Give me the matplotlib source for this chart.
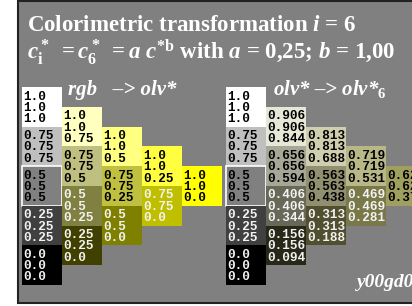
import matplotlib.pyplot as plt
from matplotlib.patches import Rectangle

plt.rcParams['mathtext.fontset'] = 'custom'
plt.rcParams['mathtext.rm'] = 'Liberation Serif:bold'
plt.rcParams['mathtext.it'] = 'Liberation Serif:bold:italic'
plt.rcParams['mathtext.bf'] = 'Liberation Serif:bold'

# rgb input colours, one list per column (top to bottom)
rgb_cols = [
    [(1.0, 1.0, 1.0), (0.75, 0.75, 0.75), (0.5, 0.5, 0.5), (0.25, 0.25, 0.25), (0.0, 0.0, 0.0)],
    [(1.0, 1.0, 0.75), (0.75, 0.75, 0.5), (0.5, 0.5, 0.25), (0.25, 0.25, 0.0)],
    [(1.0, 1.0, 0.5), (0.75, 0.75, 0.25), (0.5, 0.5, 0.0)],
    [(1.0, 1.0, 0.25), (0.75, 0.75, 0.0)],
    [(1.0, 1.0, 0.0)],
]
# transformed olv*6 colours
olv_cols = [
    [(1.0, 1.0, 1.0), (0.75, 0.75, 0.75), (0.5, 0.5, 0.5), (0.25, 0.25, 0.25), (0.0, 0.0, 0.0)],
    [(0.906, 0.906, 0.844), (0.656, 0.656, 0.594), (0.406, 0.406, 0.344), (0.156, 0.156, 0.094)],
    [(0.813, 0.813, 0.688), (0.563, 0.563, 0.438), (0.313, 0.313, 0.188)],
    [(0.719, 0.719, 0.531), (0.469, 0.469, 0.281)],
    [(0.625, 0.625, 0.375)],
]
# number of cells (from the top) in each column that use black text
n_black = [3, 2, 2, 1, 1]

W, H = 412, 306
fig = plt.figure(figsize=(W / 100, H / 100), dpi=100, facecolor='white')
ax = fig.add_axes([0, 0, 1, 1])
ax.set_xlim(0, W)
ax.set_ylim(H, 0)
ax.axis('off')

ax.add_patch(Rectangle((18.5, 1), 420, 301.5, facecolor='#808080',
                       edgecolor='#222222', lw=1.5))

cw, ch = 40, 39.6


def fmt(v):
    s = f"{v:.3f}".rstrip('0')
    if s.endswith('.'):
        s += '0'
    return s


def draw_block(x0, y0, cols):
    for c, col in enumerate(cols):
        for r, rgb in enumerate(col):
            x = x0 + c * cw
            y = y0 + c * ch / 2 + r * ch
            grey_mid = (c == 0 and r == 2)
            ax.add_patch(Rectangle((x, y), cw, ch, facecolor=rgb,
                                   edgecolor='white' if grey_mid else 'none',
                                   lw=1.2 if grey_mid else 0))
            tc = 'black' if r < n_black[c] else '#f2f2f2'
            for k, v in enumerate(rgb):
                ax.text(x + 1.2, y + 12.5 + k * 11.3, fmt(v), color=tc,
                        fontsize=9.2, family='Liberation Mono', weight='bold',
                        va='baseline', ha='left')


draw_block(22, 87, rgb_cols)
draw_block(226, 87, olv_cols)

ax.text(27, 31, r"Colorimetric transformation $i$ = 6", color='white',
        fontsize=16.5, family='Liberation Serif', weight='bold', va='baseline')
ax.text(27, 59, r"$c^*_{\mathrm{i}}\ = c^*_{6}\ = a\ c^{*\mathrm{b}}$ with $a$ = 0,25; $b$ = 1,00",
        color='white', fontsize=16.5, family='Liberation Serif', weight='bold', va='baseline')
ax.text(68, 95, "rgb   –> olv*", color='white', fontsize=15, family='Liberation Serif',
        weight='bold', style='italic', va='baseline')
ax.text(273, 95, r"olv* –> olv*$_6$", color='white', fontsize=15, family='Liberation Serif',
        weight='bold', style='italic', va='baseline')
ax.text(357, 287, "y00gd0", color='white', fontsize=14, family='Liberation Serif',
        weight='bold', style='italic', va='baseline')

fig.savefig('out.png', dpi=100, facecolor='white')
